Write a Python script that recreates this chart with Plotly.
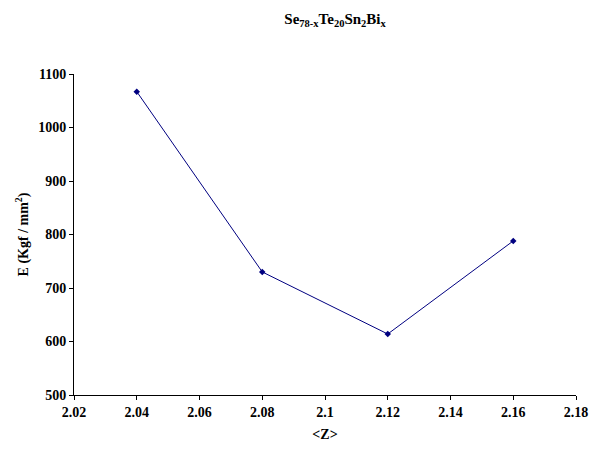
import plotly.graph_objects as go

z_values = [2.04, 2.08, 2.12, 2.16]
e_values = [1067, 730, 614, 788]

x_tick_vals = [2.02, 2.04, 2.06, 2.08, 2.10, 2.12, 2.14, 2.16, 2.18]
x_tick_text = ["2.02", "2.04", "2.06", "2.08", "2.1", "2.12", "2.14", "2.16", "2.18"]
y_tick_vals = [500, 600, 700, 800, 900, 1000, 1100]

font_family = "Liberation Serif"

fig = go.Figure()
fig.add_trace(go.Scatter(
    x=z_values, y=e_values, mode="lines+markers",
    line=dict(color="#000080", width=1),
    marker=dict(symbol="diamond", size=5, color="#000080"),
    showlegend=False,
))

fig.update_layout(
    width=592, height=451,
    margin=dict(l=74, r=16, t=74, b=56),
    paper_bgcolor="white", plot_bgcolor="white",
    font=dict(family=font_family, size=14, color="black"),
    title=dict(
        text="<b>Se<sub>78-x</sub>Te<sub>20</sub>Sn<sub>2</sub>Bi<sub>x</sub></b>",
        x=0.566, xanchor="center", y=0.958, yanchor="middle",
        font=dict(family=font_family, size=15, color="black"),
    ),
    xaxis=dict(
        range=[2.02, 2.18], tickvals=x_tick_vals, ticktext=[f"<b>{t}</b>" for t in x_tick_text],
        showgrid=False, zeroline=False, showline=True, linecolor="black", linewidth=1,
        ticks="outside", ticklen=4, tickcolor="black", automargin=False,
        tickfont=dict(family=font_family, size=14),
        title=dict(text="<b>&lt;Z&gt;</b>", standoff=10, font=dict(family=font_family, size=14)),
    ),
    yaxis=dict(
        range=[500, 1100], tickvals=y_tick_vals, ticktext=[f"<b>{v}</b>" for v in y_tick_vals],
        showgrid=False, zeroline=False, showline=True, linecolor="black", linewidth=1,
        ticks="outside", ticklen=4, tickcolor="black", automargin=False,
        tickfont=dict(family=font_family, size=14),
        title=dict(text="<b>E (Kgf / mm<sup>2</sup>)</b>", standoff=6, font=dict(family=font_family, size=14)),
    ),
)

fig.write_html("out.html", config={"displayModeBar": False},
               post_script="document.body.style.margin='0';")
